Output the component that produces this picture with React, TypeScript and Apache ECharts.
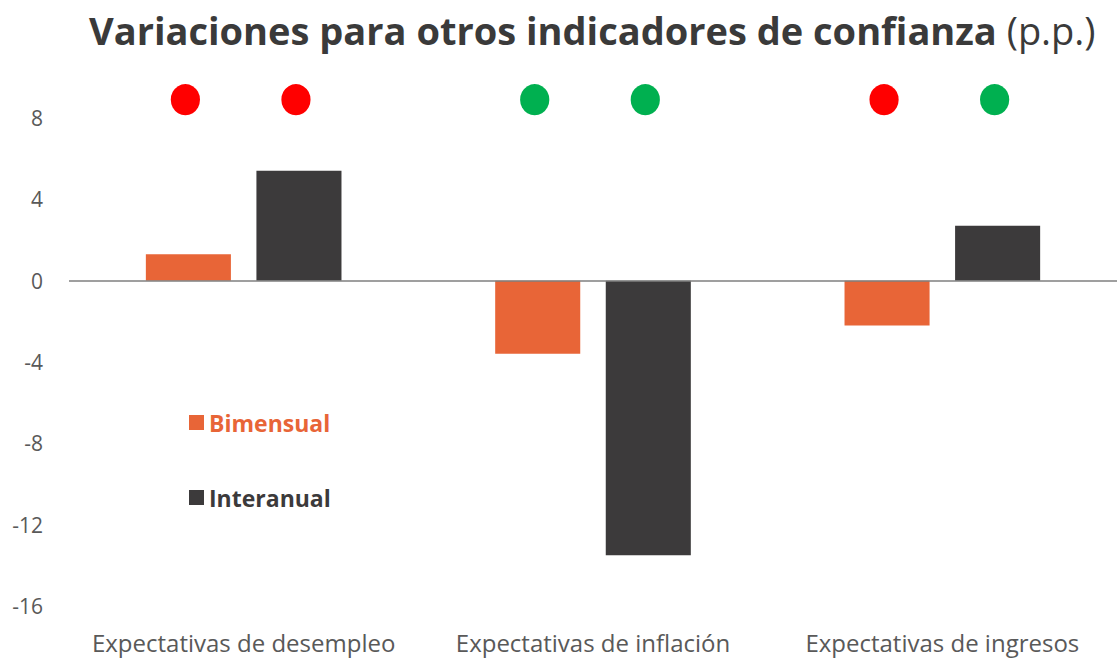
import React, { useEffect, useRef } from "react";
import * as echarts from "echarts";

const categories = ["Expectativas de desempleo", "Expectativas de inflación", "Expectativas de ingresos"];
const bimensual = [1.3, -3.6, -2.2];
const interanual = [5.4, -13.5, 2.7];
// signal dots above bars (red = worse, green = better)
const bimensualSignal = ["red", "green", "red"];
const interanualSignal = ["red", "green", "green"];
const signalLevel = 8.9;
const yTicks = { min: -16, max: 10, interval: 4 };

const ORANGE = "#E86537";
const DARK = "#3C3A3B";
const SIGNAL: Record<string, string> = { red: "#FF0000", green: "#00B050" };
const FONT = "'Open Sans', 'Noto Sans', sans-serif";

export default function App() {
  const ref = useRef<HTMLDivElement>(null);
  useEffect(() => {
    if (!ref.current) return;
    const chart = echarts.init(ref.current, undefined, { renderer: "svg" });
    const barGap = "30%";
    const barCategoryGap = "44%";
    chart.setOption({
      animation: false,
      backgroundColor: "#ffffff",
      title: {
        text: "{b|Variaciones para otros indicadores de confianza}{n|\u00a0(p.p.)}",
        left: 84,
        top: 6,
        textStyle: {
          rich: {
            b: { fontFamily: FONT, fontSize: 38, fontWeight: "bold", color: "#3A3A3A" },
            n: { fontFamily: FONT, fontSize: 38, fontWeight: "normal", color: "#3A3A3A" },
          },
        },
      },
      legend: {
        data: [
          { name: "Bimensual", textStyle: { color: ORANGE } },
          { name: "Interanual", textStyle: { color: DARK } },
        ],
        orient: "vertical",
        left: 184,
        top: 406,
        itemWidth: 15,
        itemHeight: 15,
        itemGap: 52,
        icon: "rect",
        textStyle: { fontFamily: FONT, fontSize: 23, fontWeight: "bold" },
      },
      grid: { left: 69, right: 0, top: 77.3, bottom: 53, containLabel: false },
      xAxis: [
        {
          type: "category",
          data: categories,
          axisLine: { show: false },
          axisTick: { show: false },
          axisLabel: { fontFamily: FONT, fontSize: 24, color: "#595959", margin: 24, interval: 0 },
        },
        { type: "category", data: categories, show: false },
      ],
      yAxis: {
        type: "value",
        min: yTicks.min,
        max: yTicks.max,
        interval: yTicks.interval,
        splitLine: { show: false },
        axisLine: { show: false },
        axisTick: { show: false },
        axisLabel: {
          fontFamily: FONT,
          fontSize: 21,
          color: "#595959",
          margin: 26,
          showMaxLabel: false,
        },
      },
      series: [
        {
          name: "Bimensual",
          type: "bar",
          data: bimensual,
          barGap,
          barCategoryGap,
          itemStyle: { color: ORANGE },
          markLine: {
            silent: true,
            symbol: "none",
            label: { show: false },
            lineStyle: { color: "#7F7F7F", width: 1.5, type: "solid" },
            data: [{ yAxis: 0 }],
          },
          z: 2,
        },
        {
          name: "Interanual",
          type: "bar",
          data: interanual,
          barGap,
          barCategoryGap,
          itemStyle: { color: DARK },
          z: 2,
        },
        {
          name: "sigB",
          type: "pictorialBar",
          xAxisIndex: 1,
          symbol: "circle",
          symbolSize: [29, 31],
          symbolPosition: "end",
          symbolOffset: [-3, "-50%"],
          barGap,
          barCategoryGap,
          data: bimensualSignal.map((s) => ({ value: signalLevel, itemStyle: { color: SIGNAL[s] } })),
          z: 3,
        },
        {
          name: "sigI",
          type: "pictorialBar",
          xAxisIndex: 1,
          symbol: "circle",
          symbolSize: [29, 31],
          symbolPosition: "end",
          symbolOffset: [-3, "-50%"],
          barGap,
          barCategoryGap,
          data: interanualSignal.map((s) => ({ value: signalLevel, itemStyle: { color: SIGNAL[s] } })),
          z: 3,
        },
      ],
    });
    return () => chart.dispose();
  }, []);
  return (
    <div
      ref={ref}
      style={{ position: "fixed", left: 0, top: 0, width: 1117, height: 659, background: "#fff" }}
    />
  );
}
